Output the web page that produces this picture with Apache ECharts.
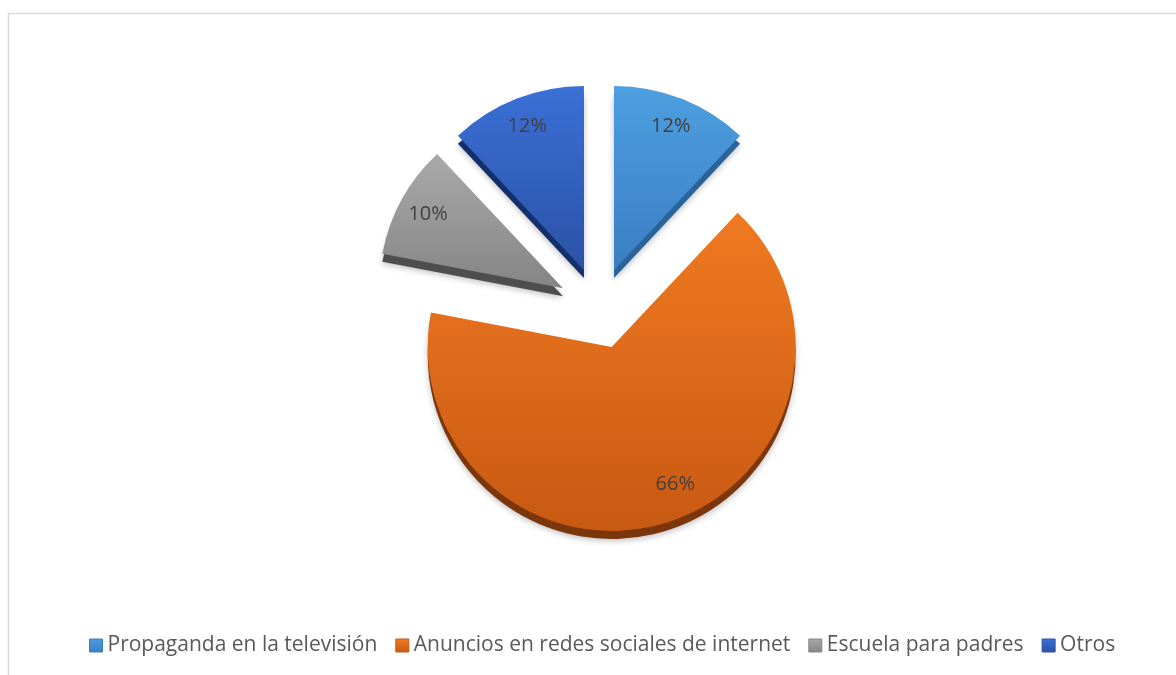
<!DOCTYPE html>
<html><head><meta charset="utf-8">
<script src="https://cdn.jsdelivr.net/npm/echarts@6/dist/echarts.min.js"></script>
<style>html,body{margin:0;padding:0;background:#fff}#c{width:1176px;height:675px}</style>
</head><body><div id="c"></div>
<script>
const categories = ['Propaganda en la televisión', 'Anuncios en redes sociales de internet', 'Escuela para padres', 'Otros'];
const values = [12, 66, 10, 12];
const labels = ['12%', '66%', '10%', '12%'];

const topColors = [['#4d9fe0', '#3a7ec2'], ['#f07a22', '#c85912'], ['#a9a9a9', '#858585'], ['#3b70d6', '#2b52a6']];
const sideColors = ['#2a639c', '#7c360b', '#4e4e4e', '#13306c'];

function grad(c){return new echarts.graphic.LinearGradient(0,0,0,1,[{offset:0,color:c[0]},{offset:1,color:c[1]}]);}

const chart = echarts.init(document.getElementById('c'), null, {renderer:'canvas'});
const R = 184, OFF = 41, CX = 599, CY = 308, DEPTH = 8;

const topData = categories.map((n,i)=>({name:n, value:values[i], selected:true, itemStyle:{color:grad(topColors[i])}}));
const sideData = categories.map((n,i)=>({name:n, value:values[i], selected:true, itemStyle:{color:sideColors[i]}}));
const labelData = categories.map((n,i)=>({name:n, value:values[i], selected:true, label:{formatter:labels[i]}}));
const legendData = categories.map((n,i)=>({name:n, itemStyle:{color:grad(topColors[i]), borderColor:topColors[i][1], borderWidth:1}}));

chart.setOption({
  animation:false,
  graphic:[{type:'rect', shape:{x:8.5,y:13.5,width:1200,height:700}, style:{fill:'none', stroke:'#d9d9d9', lineWidth:1.5}, silent:true}],
  legend:{
    data:legendData, bottom:14, left:84, itemWidth:13, itemHeight:13, itemGap:18,
    icon:'rect',
    textStyle:{fontFamily:'Open Sans', fontSize:21, color:'#595959'}
  },
  series:[
    {type:'pie', name:'side', center:[CX, CY+DEPTH], radius:R, startAngle:90, selectedMode:'multiple', selectedOffset:OFF,
     label:{show:false}, labelLine:{show:false}, silent:true, legendHoverLink:false,
     itemStyle:{shadowBlur:6, shadowColor:'rgba(0,0,0,0.25)', shadowOffsetY:2},
     select:{itemStyle:{}}, emphasis:{disabled:true},
     data:sideData},
    {type:'pie', name:'top', center:[CX, CY], radius:R, startAngle:90, selectedMode:'multiple', selectedOffset:OFF,
     label:{show:false}, labelLine:{show:false}, silent:true,
     select:{itemStyle:{}}, emphasis:{disabled:true},
     data:topData},
    {type:'pie', name:'labels', center:[CX, CY], radius:[118, R], startAngle:90, selectedMode:'multiple', selectedOffset:OFF,
     itemStyle:{color:'rgba(0,0,0,0)'}, silent:true, legendHoverLink:false,
     label:{show:true, position:'inside', fontFamily:'Open Sans', fontSize:20, color:'#404040'},
     labelLayout:function(p){ return p.dataIndex===1 ? {dx:16, dy:-9} : {}; },
     labelLine:{show:false}, select:{itemStyle:{color:'rgba(0,0,0,0)'}}, emphasis:{disabled:true},
     data:labelData}
  ]
});
</script></body></html>
